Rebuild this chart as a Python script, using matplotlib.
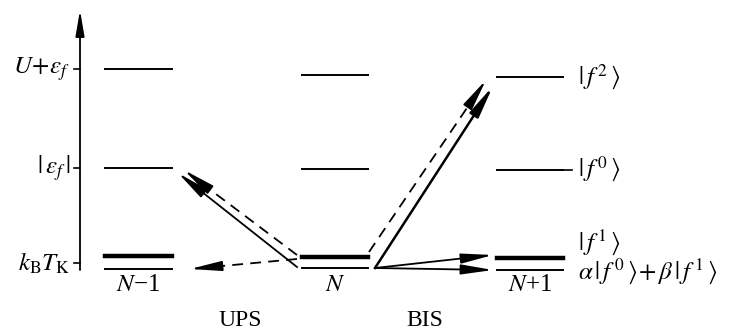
import numpy as np
import matplotlib.pyplot as plt

plt.rcParams['font.family'] = ['Liberation Serif', 'DejaVu Serif']
plt.rcParams['mathtext.fontset'] = 'stix'

# columns: N-1, N, N+1 (x extent of the level bars)
col_x0 = [105, 302, 497]
col_x1 = [172, 368, 563]
col_names = ['$N$\u22121', '$N$', '$N$+1']

# level heights (pixel rows, y axis downwards) for each column
lvl_top = [69, 75, 77]
lvl_mid = [168, 169, 170]
lvl_thick = [256, 257, 258]
lvl_low = [269, 268, 270]

# energy axis ticks
tick_y = [69, 168, 263]
tick_labels = [r'$U\!+\!\varepsilon_f$', r'$|\,\varepsilon_f\,|$', r'$k_{\rm B}T_{\rm K}$']

# state labels on the right
state_y = [77, 169, 242, 271]
state_labels = [r'$|\,f^{\,2}\,\rangle$', r'$|\,f^{\,0}\,\rangle$', r'$|\,f^{\,1}\,\rangle$',
                r'$\alpha\,|\,f^{\,0}\,\rangle\!+\beta\,|\,f^{\,1}\,\rangle$']

# transitions: (x0, y0, x1, y1, dashed)
arrows = [
    (297, 267, 178, 173, False),
    (297, 255, 184, 170, True),
    (297, 259, 190, 269, True),
    (375, 268, 493, 86, False),
    (369, 252, 486, 80, True),
    (375, 268, 493, 255, False),
    (375, 268, 493, 270, False),
]

fig = plt.figure(figsize=(7.33, 3.34), dpi=100)
ax = fig.add_axes([0, 0, 1, 1])
ax.set_xlim(0, 733)
ax.set_ylim(334, 0)
ax.axis('off')

# energy axis
ax.annotate('', xy=(80, 10), xytext=(80, 270),
            arrowprops=dict(arrowstyle='-|>,head_length=1.3,head_width=0.22', lw=1.3,
                            color='black', mutation_scale=12, shrinkA=0, shrinkB=0))
for y, lab in zip(tick_y, tick_labels):
    ax.plot([74, 80], [y, y], color='black', lw=1.2)
    ax.text(70, y, lab, ha='right', va='center', fontsize=18)

# levels
for i in range(3):
    for y in (lvl_top[i], lvl_mid[i], lvl_low[i]):
        ax.plot([col_x0[i], col_x1[i]], [y, y], color='black', lw=1.4)
    ax.plot([col_x0[i], col_x1[i]], [lvl_thick[i], lvl_thick[i]], color='black', lw=3.2)
    ax.text((col_x0[i] + col_x1[i]) / 2, 285, col_names[i], ha='center', va='center', fontsize=18)

for y, lab in zip(state_y, state_labels):
    ax.text(578, y, lab, ha='left', va='center', fontsize=18)
ax.plot([563, 572], [170, 170], color='black', lw=1.2)

ax.text(240, 320, 'UPS', ha='center', va='center', fontsize=17)
ax.text(425, 320, 'BIS', ha='center', va='center', fontsize=17)

# transitions
for x0, y0, x1, y1, dashed in arrows:
    d = np.hypot(x1 - x0, y1 - y0)
    ux, uy = (x1 - x0) / d, (y1 - y0) / d
    hx, hy = x1 - 16 * ux, y1 - 16 * uy
    lw = 1.8 if (not dashed and x0 > 370 and y1 < 100) else 1.3
    ax.plot([x0, hx], [y0, hy], color='black', lw=lw,
            ls=(0, (6, 4)) if dashed else '-')
    ax.annotate('', xy=(x1, y1), xytext=(hx, hy),
                arrowprops=dict(arrowstyle='-|>,head_length=1.6,head_width=0.25', lw=lw,
                                color='black', mutation_scale=12,
                                shrinkA=0, shrinkB=0))

fig.savefig('out.png', dpi=100)
